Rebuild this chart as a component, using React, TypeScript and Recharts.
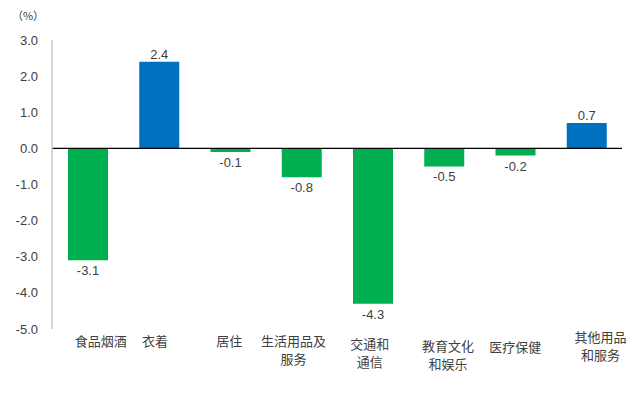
import React from 'react';
import { BarChart, Bar, XAxis, YAxis, Cell, ReferenceLine, LabelList } from 'recharts';

const categories = ['食品烟酒', '衣着', '居住', '生活用品及\n服务', '交通和\n通信', '教育文化\n和娱乐', '医疗保健', '其他用品\n和服务'];
const values = [-3.1, 2.4, -0.1, -0.8, -4.3, -0.5, -0.2, 0.7];
const yTicks = [-5, -4, -3, -2, -1, 0, 1, 2, 3];
const unitLabel = '（%）';

const data = categories.map((name, i) => ({ name, value: values[i] }));

const POS = '#0070C0';
const NEG = '#00B050';
const labelDx = [13, -4, -1, -8, -3, 4, 0, 14];
const labelDy = [-1, -1, -1, -1, 2, 4, 5, -5];

const CatTick = (props: any) => {
  const { x, y, payload, index } = props;
  const lines = String(payload.value).split('\n');
  const i = typeof index === 'number' ? index : categories.indexOf(payload.value);
  return (
    <g transform={`translate(${x + (labelDx[i] || 0)},${y + (labelDy[i] || 0)})`}>
      {lines.map((l, k) => (
        <text key={k} x={0} y={k * 18} dy={10} textAnchor="middle" fill="#404040"
          style={{ fontFamily: '"Noto Sans CJK SC", sans-serif', fontSize: 13 }}>
          {l}
        </text>
      ))}
    </g>
  );
};

const ValueLabel = (props: any) => {
  const { x, y, width, height, value } = props;
  const top = Math.min(y, y + height);
  const bottom = Math.max(y, y + height);
  const cx = x + width / 2;
  const ty = value >= 0 ? top - 3 : bottom + 15;
  return (
    <text x={cx} y={ty} textAnchor="middle" fill="#404040"
      style={{ fontFamily: '"Liberation Sans", Arial, sans-serif', fontSize: 13 }}>
      {Number(value).toFixed(1)}
    </text>
  );
};

export default function App() {
  return (
    <div style={{ position: 'absolute', left: 0, top: 0, width: 640, height: 396, background: '#fff' }}>
      <svg style={{ position: 'absolute', left: 0, top: 0 }} width={60} height={30}>
        <text x={28} y={20} textAnchor="middle" fill="#404040"
          style={{ fontFamily: '"Noto Sans CJK SC", sans-serif', fontSize: 11 }}>{unitLabel}</text>
      </svg>
      <BarChart width={640} height={396} data={data}
        margin={{ top: 40, right: 18, left: 0, bottom: 37 }} barSize={40}>
        <XAxis dataKey="name" axisLine={false} tickLine={false} interval={0} height={30}
          tick={<CatTick />} />
        <YAxis domain={[-5, 3]} ticks={yTicks} width={52} tickLine={false}
          axisLine={{ stroke: '#C8C8C8', strokeWidth: 1.5 }} tickMargin={8}
          tickFormatter={(v: number) => v.toFixed(1)}
          tick={{ fill: '#404040', fontSize: 13, fontFamily: '"Liberation Sans", Arial, sans-serif' }} />
        <ReferenceLine y={0} stroke="#000" strokeWidth={1.2} />
        <Bar dataKey="value" isAnimationActive={false}>
          {data.map((d, i) => (
            <Cell key={i} fill={d.value >= 0 ? POS : NEG} />
          ))}
          <LabelList dataKey="value" content={<ValueLabel />} />
        </Bar>
      </BarChart>
    </div>
  );
}
